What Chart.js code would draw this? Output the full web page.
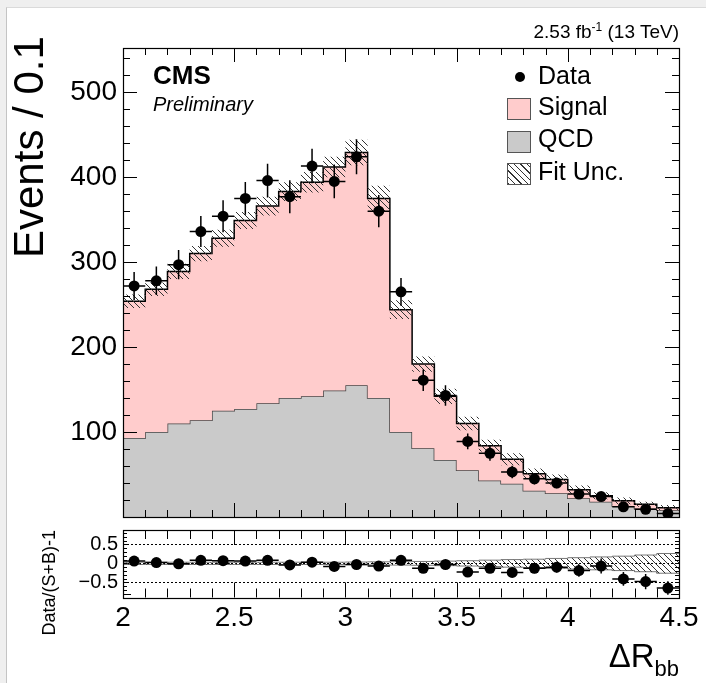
<!DOCTYPE html>
<html>
<head>
<meta charset="utf-8">
<script src="https://cdn.jsdelivr.net/npm/chart.js@4.4.1/dist/chart.umd.min.js"></script>
<style>
  body { margin: 0; background: #efefef; font-family: "Liberation Sans", Arial, sans-serif; }
  #page { position: relative; width: 706px; height: 683px; overflow: hidden; }
  #sheet { position: absolute; left: 6px; top: 7px; width: 720px; height: 700px; background: #fff;
           border-left: 1px solid #c4c4c4; border-top: 1px solid #dadada; }
  canvas { position: absolute; left: 0; }
  .lbl { position: absolute; white-space: nowrap; color: #000; line-height: 1; }
  .box { position: absolute; width: 24px; height: 22px; box-sizing: border-box; border: 1px solid #555; }
  .rot { position: absolute; transform-origin: left top; transform: rotate(-90deg); text-align: right; line-height: 1; white-space: nowrap; }
</style>
</head>
<body>
<div id="page">
  <div id="sheet"></div>
  <canvas id="mainChart" width="706" height="525" style="top:0"></canvas>
  <canvas id="ratioChart" width="706" height="163" style="top:520px"></canvas>

  <div class="lbl" style="right:27px;top:22px;font-size:19px">2.53 fb<span style="font-size:12px;position:relative;top:-7px">-1</span> (13 TeV)</div>
  <div class="lbl" style="left:153px;top:62px;font-size:26px;font-weight:bold">CMS</div>
  <div class="lbl" style="left:153px;top:94px;font-size:20px;font-style:italic">Preliminary</div>

  <!-- legend -->
  <div style="position:absolute;left:515px;top:72px;width:10px;height:10px;border-radius:50%;background:#000"></div>
  <div class="lbl" style="left:538px;top:63px;font-size:25px">Data</div>
  <div class="box" style="left:507px;top:98px;background:#ffcccc"></div>
  <div class="lbl" style="left:538px;top:94px;font-size:25px">Signal</div>
  <div class="box" style="left:507px;top:131px;background:#cacaca"></div>
  <div class="lbl" style="left:538px;top:126px;font-size:25px">QCD</div>
  <div class="box" style="left:507px;top:163px;background:repeating-linear-gradient(45deg,#333 0 1px,#fff 1px 4.5px)"></div>
  <div class="lbl" style="left:538px;top:159px;font-size:25px">Fit Unc.</div>

  <!-- axis titles -->
  <div class="rot" style="left:8px;top:258px;width:212px;font-size:42px">Events / 0.1</div>
  <div class="rot" style="left:40px;top:650px;width:120px;font-size:18px">Data/(S+B)-1</div>
  <div class="lbl" style="right:27px;top:639px;font-size:33px">ΔR<span style="font-size:22px;position:relative;top:9px">bb</span></div>
</div>

<script>
// Bin edges (ΔR_bb, width 0.1)
const binEdges = [2.0, 2.1, 2.2, 2.3, 2.4, 2.5, 2.6, 2.7, 2.8, 2.9, 3.0, 3.1, 3.2,
                  3.3, 3.4, 3.5, 3.6, 3.7, 3.8, 3.9, 4.0, 4.1, 4.2, 4.3, 4.4, 4.5];

// Stacked backgrounds
const qcdYield    = [93, 100, 110, 114, 125, 127, 134, 140, 142, 149, 155, 140, 100,
                     81, 67, 55, 43, 39, 31, 28, 22, 18, 13, 10, 8];
const signalYield = [161, 168, 179, 196, 203, 222, 232, 243, 252, 263, 274, 235, 144,
                     99, 75, 55, 41, 29, 20, 16, 10, 7, 6, 5, 3];
const fitUnc      = [8, 8, 9, 9, 10, 10, 11, 11, 12, 12, 15, 15, 11,
                     9, 9, 8, 7, 7, 6, 6, 5, 4, 4, 3, 3];

// Data
const dataCounts = [272, 278, 297, 336, 354, 375, 396, 377, 413, 395, 424, 360, 265,
                    161, 143, 89, 75, 53, 45, 40, 27, 24, 12, 9, 4];
const dataErr    = [16.5, 16.7, 17.2, 18.3, 18.8, 19.4, 19.9, 19.4, 20.3, 19.9, 20.6, 19, 16.3,
                    12.7, 12, 9.4, 8.7, 7.3, 6.7, 6.3, 5.2, 4.9, 3.5, 3, 2];

// Ratio panel
const ratioVals = [0.06, 0.02, -0.01, 0.08, 0.07, 0.06, 0.08, -0.04, 0.03, -0.08, -0.03, -0.07, 0.08,
                   -0.13, -0.03, -0.23, -0.13, -0.24, -0.13, -0.1, -0.19, -0.07, -0.41, -0.48, -0.65];
const ratioErr  = [0.065, 0.062, 0.06, 0.059, 0.057, 0.056, 0.054, 0.051, 0.052, 0.048, 0.048, 0.051, 0.067,
                   0.07, 0.085, 0.085, 0.1, 0.11, 0.13, 0.14, 0.16, 0.2, 0.18, 0.2, 0.18];
const ratioUnc  = [0.03, 0.03, 0.03, 0.03, 0.03, 0.03, 0.03, 0.03, 0.03, 0.03, 0.035, 0.04, 0.045,
                   0.05, 0.06, 0.07, 0.085, 0.1, 0.11, 0.13, 0.15, 0.17, 0.19, 0.22, 0.26];

// Tick labels
const mainYTicks  = [100, 200, 300, 400, 500];
const ratioYTicks = [-0.5, 0, 0.5];
const xTicks      = [2, 2.5, 3, 3.5, 4, 4.5];

const FONT = '"Liberation Sans", Arial, sans-serif';

// histogram step outline from per-bin values
function steps(vals) {
    const pts = [];
    vals.forEach((v, i) => {
        pts.push({ x: binEdges[i], y: v }, { x: binEdges[i + 1], y: v });
    });
    return pts;
}

function centers(vals) {
    return vals.map((v, i) => ({ x: (binEdges[i] + binEdges[i + 1]) / 2, y: v }));
}

// hatch pattern  \\\\
function makeHatch() {
    const tile = document.createElement('canvas');
    tile.width = 6; tile.height = 6;
    const t = tile.getContext('2d');
    t.strokeStyle = '#333';
    t.lineWidth = 1;
    t.beginPath();
    t.moveTo(-1, -1); t.lineTo(7, 7);
    t.moveTo(-1, 5); t.lineTo(1, 7);
    t.moveTo(5, -1); t.lineTo(7, 1);
    t.stroke();
    return t.createPattern(tile, 'repeat');
}
const hatch = makeHatch();

// chart area must sit exactly where the frame is: drop the label overhang padding
function noPad(s) {
    s.paddingTop = 0; s.paddingBottom = 0; s.paddingLeft = 0; s.paddingRight = 0;
}

// frame + ROOT style inward ticks
const frameTicks = {
    id: 'frameTicks',
    beforeDatasetsDraw(chart, args, opts) {
        if (!opts.refLines) return;
        const { ctx, chartArea: a, scales: { y } } = chart;
        ctx.save();
        ctx.strokeStyle = '#000';
        ctx.lineWidth = 1;
        ctx.setLineDash([2, 2]);
        opts.refLines.forEach(v => {
            const py = Math.round(y.getPixelForValue(v)) + 0.5;
            ctx.beginPath(); ctx.moveTo(a.left, py); ctx.lineTo(a.right, py); ctx.stroke();
        });
        ctx.restore();
    },
    afterDraw(chart, args, opts) {
        const { ctx, chartArea: a, scales: { x, y } } = chart;
        ctx.save();
        ctx.strokeStyle = '#000';
        ctx.lineWidth = 1;
        ctx.beginPath();
        // x ticks, bottom and top
        const nx = Math.round((x.max - x.min) / opts.xMinor);
        for (let i = 0; i <= nx; i++) {
            const v = x.min + i * opts.xMinor;
            const px = Math.round(x.getPixelForValue(v)) + 0.5;
            const major = i % opts.xEvery === 0;
            const len = major ? opts.xLen[1] : opts.xLen[0];
            ctx.moveTo(px, a.bottom); ctx.lineTo(px, a.bottom - len);
            ctx.moveTo(px, a.top); ctx.lineTo(px, a.top + len);
        }
        // y ticks, left and right
        const ny = Math.floor((y.max - opts.yStart) / opts.yMinor + 1e-6);
        for (let i = 0; i <= ny; i++) {
            const v = opts.yStart + i * opts.yMinor;
            if (v < y.min) continue;
            const py = Math.round(y.getPixelForValue(v)) + 0.5;
            const major = i % opts.yEvery === 0;
            const len = major ? opts.yLen[1] : opts.yLen[0];
            ctx.moveTo(a.left, py); ctx.lineTo(a.left + len, py);
            ctx.moveTo(a.right, py); ctx.lineTo(a.right - len, py);
        }
        ctx.stroke();
        ctx.lineWidth = 1.2;
        ctx.strokeRect(Math.round(a.left) + 0.5, Math.round(a.top) + 0.5,
                       Math.round(a.right - a.left), Math.round(a.bottom - a.top));
        ctx.restore();
    }
};

// error bars for the data points
const errorBars = {
    id: 'errorBars',
    afterDatasetsDraw(chart, args, opts) {
        const { ctx, chartArea: a, scales: { x, y } } = chart;
        ctx.save();
        ctx.beginPath();
        ctx.rect(a.left, a.top, a.right - a.left, a.bottom - a.top);
        ctx.clip();
        ctx.strokeStyle = '#000';
        ctx.lineWidth = 1.5;
        ctx.beginPath();
        opts.values.forEach((v, i) => {
            const xc = x.getPixelForValue((binEdges[i] + binEdges[i + 1]) / 2);
            const xl = x.getPixelForValue(binEdges[i]);
            const xr = x.getPixelForValue(binEdges[i + 1]);
            const yc = y.getPixelForValue(v);
            ctx.moveTo(xl, yc); ctx.lineTo(xr, yc);
            ctx.moveTo(xc, y.getPixelForValue(v - opts.errors[i]));
            ctx.lineTo(xc, y.getPixelForValue(v + opts.errors[i]));
        });
        ctx.stroke();
        ctx.restore();
    }
};

const totalYield = qcdYield.map((q, i) => q + signalYield[i]);
const uncUp = totalYield.map((t, i) => t + fitUnc[i]);
const uncDown = totalYield.map((t, i) => t - fitUnc[i]);

const lineBase = { pointRadius: 0, tension: 0, borderJoinStyle: 'miter' };

// Main panel
new Chart(document.getElementById('mainChart'), {
    type: 'line',
    data: {
        datasets: [
            { type: 'scatter', label: 'Data', data: centers(dataCounts), pointRadius: 5.5,
              pointBackgroundColor: '#000', pointBorderWidth: 0, order: 0 },
            { ...lineBase, label: 'Fit Unc.', data: steps(uncUp), fill: 2,
              backgroundColor: hatch, borderWidth: 0, order: 1 },
            { ...lineBase, label: 'unc-down', data: steps(uncDown), fill: false,
              borderWidth: 0, order: 1 },
            { ...lineBase, label: 'Signal', data: steps(totalYield), fill: 4,
              backgroundColor: '#ffcccc', borderColor: '#000', borderWidth: 1.5, order: 2 },
            { ...lineBase, label: 'QCD', data: steps(qcdYield), fill: 'origin',
              backgroundColor: '#cacaca', borderColor: '#444', borderWidth: 1.5, order: 3 }
        ]
    },
    options: {
        responsive: false,
        animation: false,
        devicePixelRatio: 1,
        layout: { autoPadding: false, padding: { top: 48, right: 27, bottom: 8, left: 0 } },
        plugins: {
            legend: { display: false },
            tooltip: { enabled: false },
            frameTicks: { xMinor: 0.1, xEvery: 5, xLen: [7, 14], yStart: 0, yMinor: 20, yEvery: 5, yLen: [7, 14] },
            errorBars: { values: dataCounts, errors: dataErr }
        },
        scales: {
            x: { type: 'linear', min: 2, max: 4.5, display: false, afterFit: noPad },
            y: {
                min: 0, max: 552,
                afterFit: s => { s.width = 123; noPad(s); },
                afterBuildTicks: s => { s.ticks = mainYTicks.map(v => ({ value: v })); },
                grid: { display: false, drawTicks: false },
                border: { display: false },
                ticks: { autoSkip: false, padding: 6, color: '#000', font: { family: FONT, size: 28 } }
            }
        }
    },
    plugins: [frameTicks, errorBars]
});

// Ratio panel
new Chart(document.getElementById('ratioChart'), {
    type: 'line',
    data: {
        datasets: [
            { type: 'scatter', label: 'Ratio', data: centers(ratioVals), pointRadius: 5.5,
              pointBackgroundColor: '#000', pointBorderWidth: 0, order: 0 },
            { ...lineBase, label: 'unc-up', data: steps(ratioUnc), fill: 2,
              backgroundColor: hatch, borderColor: '#777', borderWidth: 1, order: 1 },
            { ...lineBase, label: 'unc-down', data: steps(ratioUnc.map(u => -u)), fill: false,
              borderColor: '#777', borderWidth: 1, order: 1 }
        ]
    },
    options: {
        responsive: false,
        animation: false,
        devicePixelRatio: 1,
        layout: { autoPadding: false, padding: { top: 10, right: 27, bottom: 0, left: 0 } },
        plugins: {
            legend: { display: false },
            tooltip: { enabled: false },
            frameTicks: { xMinor: 0.1, xEvery: 5, xLen: [9, 15], yStart: -0.8, yMinor: 0.1, yEvery: 50, yLen: [4, 8],
                          refLines: [-0.5, 0, 0.5] },
            errorBars: { values: ratioVals, errors: ratioErr }
        },
        scales: {
            x: {
                type: 'linear', min: 2, max: 4.5,
                afterFit: s => { s.height = 85.5; noPad(s); },
                afterBuildTicks: s => { s.ticks = xTicks.map(v => ({ value: v })); },
                grid: { display: false, drawTicks: false },
                border: { display: false },
                ticks: { autoSkip: false, maxRotation: 0, padding: 4, color: '#000', font: { family: FONT, size: 28 },
                         callback: v => String(v) }
            },
            y: {
                min: -0.9, max: 0.88,
                afterFit: s => { s.width = 123; noPad(s); },
                afterBuildTicks: s => { s.ticks = ratioYTicks.map(v => ({ value: v })); },
                grid: { display: false, drawTicks: false },
                border: { display: false },
                ticks: {
                    autoSkip: false, padding: 5, color: '#000', font: { family: FONT, size: 20 },
                    callback: v => v < 0 ? '\u2212' + Math.abs(v) : String(v)
                }
            }
        }
    },
    plugins: [frameTicks, errorBars]
});
</script>
</body>
</html>
